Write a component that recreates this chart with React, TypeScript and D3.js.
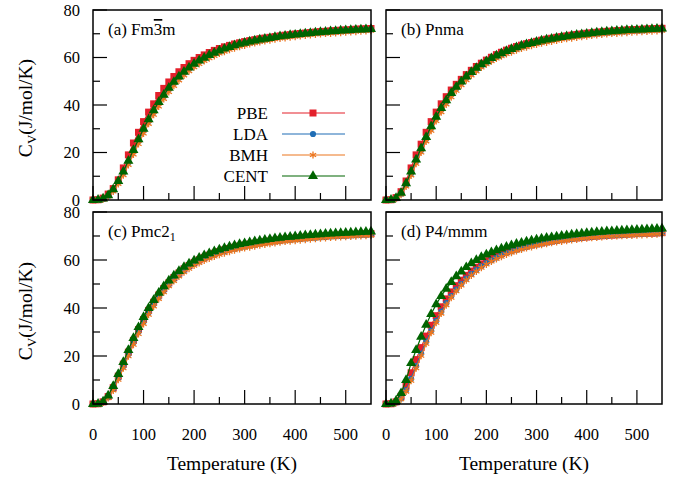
import React from "react";
import * as d3 from "d3";

// temperature grid (K)
const temps = [0, 10, 20, 30, 40, 50, 60, 70, 80, 90, 100, 110, 120, 130, 140, 150, 160, 170, 180, 190, 200, 210, 220, 230, 240, 250, 260, 270, 280, 290, 300, 310, 320, 330, 340, 350, 360, 370, 380, 390, 400, 410, 420, 430, 440, 450, 460, 470, 480, 490, 500, 510, 520, 530, 540, 550];

const functionals = ["PBE", "LDA", "BMH", "CENT"];
const colors = ["#e3202b", "#1f6db5", "#ec761f", "#006400"];

const xTicks = [0, 50, 100, 150, 200, 250, 300, 350, 400, 450, 500];
const xLabels = [0, 100, 200, 300, 400, 500];
const yTicks = [0, 10, 20, 30, 40, 50, 60, 70, 80];
const yLabels = [0, 20, 40, 60, 80];

// (a) Fm-3m
const aPBE = [0, 0.1, 0.8, 2.5, 4.8, 8.5, 13.5, 19, 24, 28.5, 33, 37, 40.5, 44, 47, 49.7, 52, 54, 55.8, 57.4, 58.8, 60, 61.1, 62.1, 63, 63.8, 64.5, 65.1, 65.7, 66.2, 66.7, 67.1, 67.5, 67.9, 68.2, 68.5, 68.8, 69.1, 69.4, 69.6, 69.9, 70.1, 70.3, 70.5, 70.7, 70.9, 71, 71.2, 71.3, 71.5, 71.6, 71.7, 71.9, 72, 72.1, 72.2];
const aLDA = [0, 0.1, 0.5, 1.8, 4.1, 7.5, 11.4, 15.8, 20.3, 24.8, 29.2, 33.3, 37.1, 40.6, 43.7, 46.6, 49.2, 51.5, 53.5, 55.3, 56.9, 58.3, 59.5, 60.6, 61.6, 62.5, 63.3, 64.1, 64.7, 65.3, 65.9, 66.4, 66.8, 67.2, 67.6, 68, 68.3, 68.6, 68.9, 69.2, 69.4, 69.7, 69.9, 70.1, 70.3, 70.5, 70.6, 70.8, 70.9, 71.1, 71.2, 71.3, 71.5, 71.6, 71.7, 71.8];
const aBMH = [0, 0.1, 0.4, 1.5, 3.6, 6.8, 10.5, 14.8, 19.2, 23.6, 28, 32.1, 35.9, 39.4, 42.6, 45.5, 48.1, 50.4, 52.5, 54.3, 55.9, 57.3, 58.6, 59.7, 60.7, 61.7, 62.5, 63.3, 63.9, 64.6, 65.1, 65.7, 66.1, 66.6, 67, 67.3, 67.7, 68, 68.3, 68.6, 68.8, 69.1, 69.3, 69.5, 69.7, 69.9, 70.1, 70.2, 70.4, 70.5, 70.7, 70.8, 70.9, 71.1, 71.2, 71.3];
const aCENT = [0, 0.1, 0.6, 2, 4.5, 8, 12, 16.5, 21, 25.5, 30, 34, 37.8, 41.2, 44.3, 47.2, 49.7, 52, 54, 55.8, 57.3, 58.7, 59.9, 61, 62, 62.9, 63.7, 64.4, 65.1, 65.7, 66.2, 66.7, 67.1, 67.5, 67.9, 68.2, 68.6, 68.9, 69.1, 69.4, 69.6, 69.9, 70.1, 70.3, 70.5, 70.7, 70.8, 71, 71.1, 71.3, 71.4, 71.5, 71.7, 71.8, 71.9, 72];

// (b) Pnma
const bPBE = [0, 0.1, 1, 3.5, 8, 13.5, 19, 23.5, 28.5, 33, 37, 40.5, 43.5, 46.3, 48.7, 50.8, 52.8, 54.6, 56.2, 57.6, 58.9, 60.1, 61.2, 62.2, 63.1, 63.9, 64.6, 65.2, 65.8, 66.3, 66.8, 67.3, 67.7, 68.1, 68.5, 68.8, 69.1, 69.4, 69.7, 69.9, 70.2, 70.4, 70.6, 70.8, 71, 71.1, 71.3, 71.4, 71.6, 71.7, 71.8, 71.9, 72, 72.1, 72.2, 72.3];
const bLDA = [0, 0.1, 0.7, 2.6, 6.3, 11.2, 16.2, 21, 25.7, 30.2, 34.3, 38, 41.3, 44.3, 47, 49.3, 51.4, 53.3, 55, 56.5, 57.9, 59.2, 60.3, 61.3, 62.2, 63, 63.8, 64.5, 65.1, 65.7, 66.2, 66.6, 67.1, 67.5, 67.8, 68.2, 68.5, 68.8, 69.1, 69.3, 69.6, 69.8, 70, 70.2, 70.4, 70.6, 70.7, 70.9, 71, 71.2, 71.3, 71.4, 71.5, 71.6, 71.7, 71.8];
const bBMH = [0, 0.1, 0.6, 2.3, 5.7, 10.4, 15.3, 20, 24.7, 29.2, 33.3, 37, 40.3, 43.3, 46, 48.4, 50.5, 52.5, 54.2, 55.8, 57.2, 58.5, 59.6, 60.6, 61.5, 62.3, 63.1, 63.8, 64.4, 65, 65.5, 66, 66.4, 66.8, 67.2, 67.6, 67.9, 68.2, 68.5, 68.8, 69, 69.3, 69.5, 69.7, 69.9, 70.1, 70.2, 70.4, 70.5, 70.7, 70.8, 70.9, 71, 71.1, 71.2, 71.3];
const bCENT = [0, 0.1, 0.8, 3, 7, 12, 17, 21.8, 26.5, 31, 35, 38.7, 42, 45, 47.6, 49.9, 52, 53.9, 55.6, 57.1, 58.4, 59.7, 60.8, 61.8, 62.7, 63.5, 64.3, 65, 65.6, 66.1, 66.6, 67.1, 67.5, 67.9, 68.3, 68.6, 68.9, 69.2, 69.5, 69.8, 70, 70.3, 70.5, 70.7, 70.9, 71, 71.2, 71.3, 71.5, 71.6, 71.7, 71.8, 71.9, 72, 72.1, 72.2];

// (c) Pmc2_1
const cPBE = [0, 0.1, 0.9, 3.1, 6.8, 11.6, 16.6, 21.6, 26.5, 31, 35.2, 39, 42.4, 45.4, 48.1, 50.5, 52.7, 54.6, 56.3, 57.7, 59, 60.1, 61.1, 62, 62.8, 63.5, 64.2, 64.8, 65.3, 65.8, 66.2, 66.6, 67, 67.3, 67.6, 67.9, 68.2, 68.4, 68.7, 68.9, 69.1, 69.3, 69.5, 69.6, 69.8, 69.9, 70.1, 70.2, 70.3, 70.4, 70.5, 70.6, 70.7, 70.8, 70.9, 71];
const cLDA = [0, 0.1, 0.8, 2.8, 6.2, 10.8, 15.7, 20.7, 25.6, 30.1, 34.3, 38.1, 41.6, 44.6, 47.3, 49.8, 52, 53.9, 55.6, 57.1, 58.4, 59.5, 60.5, 61.4, 62.2, 62.9, 63.6, 64.2, 64.7, 65.2, 65.6, 66, 66.4, 66.8, 67.1, 67.4, 67.7, 67.9, 68.2, 68.4, 68.6, 68.8, 69, 69.2, 69.3, 69.5, 69.6, 69.8, 69.9, 70, 70.1, 70.2, 70.3, 70.4, 70.5, 70.6];
const cBMH = [0, 0.1, 0.7, 2.5, 5.7, 10.1, 14.9, 19.9, 24.7, 29.2, 33.4, 37.2, 40.7, 43.8, 46.6, 49.1, 51.3, 53.2, 54.9, 56.4, 57.7, 58.8, 59.8, 60.7, 61.5, 62.2, 62.9, 63.5, 64.1, 64.6, 65, 65.4, 65.8, 66.2, 66.5, 66.8, 67.1, 67.4, 67.7, 67.9, 68.1, 68.3, 68.5, 68.7, 68.9, 69.1, 69.2, 69.4, 69.5, 69.6, 69.7, 69.8, 69.9, 70, 70.1, 70.2];
const cCENT = [0, 0.1, 1, 3.5, 7.5, 12.5, 17.5, 22.5, 27.5, 32, 36.2, 40, 43.3, 46.3, 49, 51.4, 53.5, 55.4, 57.1, 58.5, 59.8, 60.9, 61.9, 62.8, 63.6, 64.3, 65, 65.6, 66.1, 66.6, 67, 67.4, 67.8, 68.1, 68.4, 68.7, 69, 69.2, 69.5, 69.7, 69.9, 70.1, 70.3, 70.4, 70.6, 70.7, 70.9, 71, 71.1, 71.2, 71.3, 71.4, 71.5, 71.6, 71.7, 71.8];

// (d) P4/mmm
const dPBE = [0, 0.1, 0.9, 3.2, 7.5, 13, 18.5, 23.5, 28.3, 32.8, 36.8, 40.5, 43.8, 46.7, 49.3, 51.6, 53.6, 55.4, 57, 58.4, 59.7, 60.8, 61.8, 62.7, 63.5, 64.2, 64.8, 65.4, 65.9, 66.4, 66.8, 67.2, 67.6, 67.9, 68.2, 68.5, 68.8, 69, 69.2, 69.4, 69.6, 69.8, 70, 70.1, 70.3, 70.4, 70.5, 70.6, 70.8, 70.9, 71, 71.1, 71.2, 71.2, 71.3, 71.4];
const dLDA = [0, 0.1, 0.6, 2.3, 5.8, 10.5, 15.8, 21, 26, 30.5, 34.7, 38.5, 42, 45, 47.7, 50.1, 52.3, 54.2, 55.9, 57.4, 58.7, 59.9, 61, 62, 62.8, 63.6, 64.3, 64.9, 65.5, 66, 66.5, 66.9, 67.3, 67.7, 68, 68.3, 68.6, 68.8, 69.1, 69.3, 69.5, 69.7, 69.8, 70, 70.1, 70.3, 70.4, 70.5, 70.6, 70.7, 70.8, 70.9, 71, 71.1, 71.1, 71.2];
const dBMH = [0, 0.1, 0.5, 2, 5.2, 9.7, 14.9, 20.1, 25.1, 29.7, 33.9, 37.7, 41.2, 44.3, 47, 49.4, 51.6, 53.6, 55.3, 56.8, 58.2, 59.4, 60.5, 61.4, 62.3, 63.1, 63.8, 64.4, 65, 65.5, 66, 66.4, 66.8, 67.2, 67.5, 67.8, 68.1, 68.4, 68.6, 68.9, 69.1, 69.3, 69.4, 69.6, 69.8, 69.9, 70, 70.1, 70.2, 70.3, 70.4, 70.5, 70.6, 70.7, 70.8, 70.9];
const dCENT = [0, 0.2, 1.3, 4.5, 10, 17, 22.5, 28, 33, 37.5, 41.5, 45, 48, 50.8, 53.2, 55.2, 57, 58.6, 60, 61.2, 62.3, 63.2, 64, 64.8, 65.5, 66.1, 66.7, 67.2, 67.7, 68.1, 68.5, 68.9, 69.2, 69.5, 69.8, 70.1, 70.3, 70.6, 70.8, 71, 71.2, 71.4, 71.6, 71.7, 71.9, 72, 72.2, 72.3, 72.4, 72.5, 72.6, 72.7, 72.8, 72.9, 73, 73.1];

const FONT = "Liberation Serif, Times New Roman, serif";

const symbols = [d3.symbolSquare, d3.symbolCircle, d3.symbolAsterisk, d3.symbolTriangle];
const symSizes = [49, 30, 36, 44];

const Marker = ({ i, x, y }: { i: number; x: number; y: number }) => {
  const path = d3.symbol().type(symbols[i]).size(symSizes[i])() || "";
  if (i === 2) {
    return <path d={path} transform={`translate(${x},${y})`} fill="none" stroke={colors[i]} strokeWidth={1.3} />;
  }
  return <path d={path} transform={`translate(${x},${y})`} fill={colors[i]} />;
};

type Box = { x0: number; x1: number; y0: number; y1: number };

const Panel = ({ box, data, label, showX }: { box: Box; data: number[][]; label: React.ReactNode; showX: boolean }) => {
  const x = d3.scaleLinear().domain([0, 550]).range([box.x0, box.x1]);
  const y = d3.scaleLinear().domain([0, 80]).range([box.y1, box.y0]);
  const line = d3.line<number>().x((_, k) => x(temps[k])).y((v) => y(v));
  return (
    <g>
      {data.map((vals, i) => (
        <g key={i}>
          <path d={line(vals) || ""} fill="none" stroke={colors[i]} strokeWidth={1.2} />
          {vals.map((v, k) => (
            <Marker key={k} i={i} x={x(temps[k])} y={y(v)} />
          ))}
        </g>
      ))}
      <rect x={box.x0} y={box.y0} width={box.x1 - box.x0} height={box.y1 - box.y0} fill="none" stroke="#000" strokeWidth={1.5} />
      {xTicks.map((t) => (
        <line key={t} x1={x(t)} x2={x(t)} y1={box.y1} y2={box.y1 - (t % 100 === 0 ? 14 : 7)} stroke="#000" strokeWidth={1.2} />
      ))}
      {yTicks.map((t) => (
        <line key={t} x1={box.x0} x2={box.x0 + (t % 20 === 0 ? 14 : 7)} y1={y(t)} y2={y(t)} stroke="#000" strokeWidth={1.2} />
      ))}
      {showX &&
        xLabels.map((t) => (
          <text key={t} x={x(t)} y={440} textAnchor="middle" fontSize={16.5}>
            {t}
          </text>
        ))}
      {showX && (
        <text x={(box.x0 + box.x1) / 2} y={470} textAnchor="middle" fontSize={19.5}>
          Temperature (K)
        </text>
      )}
      <text x={box.x0 + 15} y={box.y0 + 25} fontSize={17}>
        {label}
      </text>
    </g>
  );
};

const YAxisLabels = ({ box }: { box: Box }) => {
  const y = d3.scaleLinear().domain([0, 80]).range([box.y1, box.y0]);
  const cy = (box.y0 + box.y1) / 2 + 3;
  return (
    <g>
      {yLabels.map((t) => (
        <text key={t} x={80} y={y(t)} dy="0.35em" textAnchor="end" fontSize={16.5}>
          {t}
        </text>
      ))}
      <text transform={`translate(32,${cy}) rotate(-90)`} textAnchor="middle" fontSize={19.5}>
        C<tspan fontSize={13} dy={4}>V</tspan>
        <tspan dy={-4}>(J/mol/K)</tspan>
      </text>
    </g>
  );
};

export default function App() {
  const boxA = { x0: 93, x1: 371, y0: 10, y1: 200 };
  const boxB = { x0: 386, x1: 662, y0: 10, y1: 200 };
  const boxC = { x0: 93, x1: 371, y0: 212, y1: 404 };
  const boxD = { x0: 386, x1: 662, y0: 212, y1: 404 };
  const legendRows = [113, 134, 155, 176];
  return (
    <svg width={673} height={481} fontFamily={FONT} style={{ position: "absolute", left: 0, top: 0 }}>
      <rect width={673} height={481} fill="#fff" />
      <Panel
        box={boxA}
        data={[aPBE, aLDA, aBMH, aCENT]}
        showX={false}
        label={
          <>
            (a) Fm<tspan textDecoration="overline">3</tspan>m
          </>
        }
      />
      <Panel box={boxB} data={[bPBE, bLDA, bBMH, bCENT]} showX={false} label="(b) Pnma" />
      <Panel
        box={boxC}
        data={[cPBE, cLDA, cBMH, cCENT]}
        showX={true}
        label={
          <>
            (c) Pmc2<tspan fontSize={12} dy={4}>1</tspan>
          </>
        }
      />
      <Panel box={boxD} data={[dPBE, dLDA, dBMH, dCENT]} showX={true} label="(d) P4/mmm" />
      <YAxisLabels box={boxA} />
      <YAxisLabels box={boxC} />
      <g>
        {functionals.map((f, i) => (
          <g key={f}>
            <text x={268} y={legendRows[i]} dy="0.35em" textAnchor="end" fontSize={17}>
              {f}
            </text>
            <line x1={282} x2={345} y1={legendRows[i]} y2={legendRows[i]} stroke={colors[i]} strokeWidth={1.2} />
            <Marker i={i} x={313} y={legendRows[i]} />
          </g>
        ))}
      </g>
    </svg>
  );
}
